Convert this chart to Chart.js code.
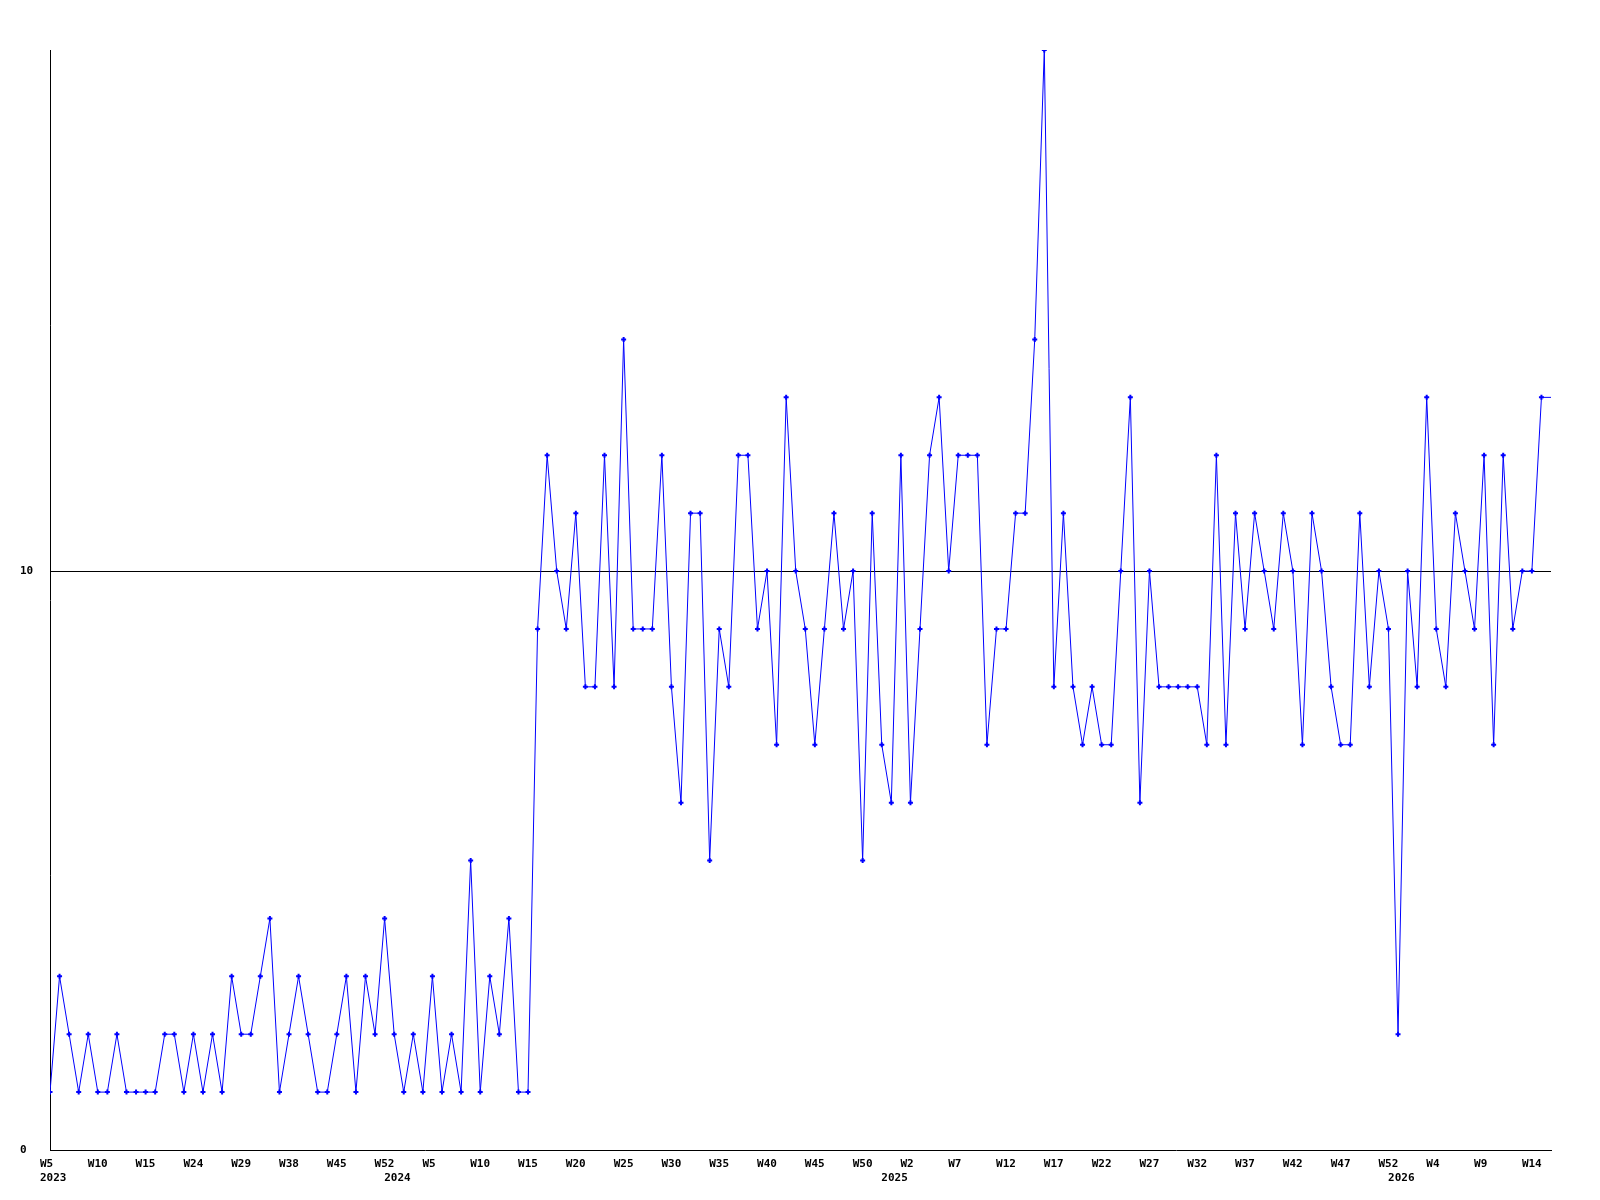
<!DOCTYPE html>
<html>
<head>
<meta charset="utf-8">
<script src="https://cdn.jsdelivr.net/npm/chart.js@4/dist/chart.umd.min.js"></script>
<style>
  body { margin: 0; background: #ffffff; }
  canvas { display: block; }
</style>
</head>
<body>
<canvas id="WeeklyChart" width="1600" height="1200"></canvas>
<script>
// weekly counts, one per point, oldest first
const weeklyValues = [
  1, 3, 2, 1, 2, 1, 1, 2, 1, 1,
  1, 1, 2, 2, 1, 2, 1, 2, 1, 3,
  2, 2, 3, 4, 1, 2, 3, 2, 1, 1,
  2, 3, 1, 3, 2, 4, 2, 1, 2, 1,
  3, 1, 2, 1, 5, 1, 3, 2, 4, 1,
  1, 9, 12, 10, 9, 11, 8, 8, 12, 8,
  14, 9, 9, 9, 12, 8, 6, 11, 11, 5,
  9, 8, 12, 12, 9, 10, 7, 13, 10, 9,
  7, 9, 11, 9, 10, 5, 11, 7, 6, 12,
  6, 9, 12, 13, 10, 12, 12, 12, 7, 9,
  9, 11, 11, 14, 19, 8, 11, 8, 7, 8,
  7, 7, 10, 13, 6, 10, 8, 8, 8, 8,
  8, 7, 12, 7, 11, 9, 11, 10, 9, 11,
  10, 7, 11, 10, 8, 7, 7, 11, 8, 10,
  9, 2, 10, 8, 13, 9, 8, 11, 10, 9,
  12, 7, 12, 9, 10, 10, 13,
];

// week label under every 5th point
const weekTicks = [
  "W5", "W10", "W15", "W24", "W29", "W38", "W45", "W52",
  "W5", "W10", "W15", "W20", "W25", "W30", "W35", "W40", "W45", "W50",
  "W2", "W7", "W12", "W17", "W22", "W27", "W32", "W37", "W42", "W47", "W52",
  "W4", "W9", "W14",
];
const weekTickEvery = 5;

// year label and the point it sits under
const yearTicks = ["2023", "2024", "2025", "2026"];
const yearTickIndex = [0, 36, 88, 141];

const yTicks = [0, 10];
const yMax = 19;

const monoFont = { family: "'DejaVu Sans Mono', monospace", size: 11, weight: "bold", lineHeight: "14px" };

//Build points//
const linePoints = weeklyValues.map((v, i) => ({ x: i, y: v }));
const lastIndex = weeklyValues.length - 1;
const lastValue = weeklyValues[lastIndex];
// current week carries the last value to the right edge
const tailPoints = [
  { x: lastIndex, y: lastValue },
  { x: lastIndex + 1, y: lastValue },
];

function xTickLabel(value) {
  let week = "";
  if (value % weekTickEvery === 0 && value / weekTickEvery < weekTicks.length) {
    week = weekTicks[value / weekTickEvery];
  }
  const yearPos = yearTickIndex.indexOf(value);
  if (yearPos >= 0) {
    return [week, yearTicks[yearPos]];
  }
  return week;
}

new Chart(document.getElementById("WeeklyChart"), {
  type: "line",
  data: {
    datasets: [
      {
        data: linePoints,
        borderColor: "#0000ff",
        backgroundColor: "#0000ff",
        borderWidth: 1,
        tension: 0,
        pointStyle: "cross",
        pointRadius: 2.5,
        pointBorderWidth: 2,
        pointBorderColor: "#0000ff",
      },
      {
        data: tailPoints,
        borderColor: "#0000ff",
        borderWidth: 1,
        pointRadius: 0,
      },
    ],
  },
  options: {
    responsive: false,
    animation: false,
    events: [],
    layout: {
      padding: { left: 20, right: 49, top: 50, bottom: 0 },
    },
    plugins: {
      legend: { display: false },
      tooltip: { enabled: false },
    },
    scales: {
      x: {
        type: "linear",
        min: 0,
        max: lastIndex + 1,
        afterFit: (scale) => {
          scale.height = 50;
        },
        grid: { color: "rgba(0,0,0,0)", drawTicks: false },
        border: { display: true, color: "#000000", width: 1 },
        ticks: {
          stepSize: 1,
          autoSkip: false,
          maxRotation: 0,
          minRotation: 0,
          align: "start",
          labelOffset: -10,
          padding: 7,
          color: "#000000",
          font: monoFont,
          callback: xTickLabel,
        },
      },
      y: {
        min: 0,
        max: yMax,
        afterFit: (scale) => {
          scale.width = 30;
        },
        afterBuildTicks: (scale) => {
          scale.ticks = yTicks.map((v) => ({ value: v }));
        },
        grid: {
          drawTicks: false,
          color: (ctx) => (ctx.tick && ctx.tick.value === 10 ? "#000000" : "rgba(0,0,0,0)"),
          lineWidth: 1,
        },
        border: { display: true, color: "#000000", width: 1 },
        ticks: {
          crossAlign: "far",
          color: "#000000",
          font: monoFont,
        },
      },
    },
  },
});
</script>
</body>
</html>
